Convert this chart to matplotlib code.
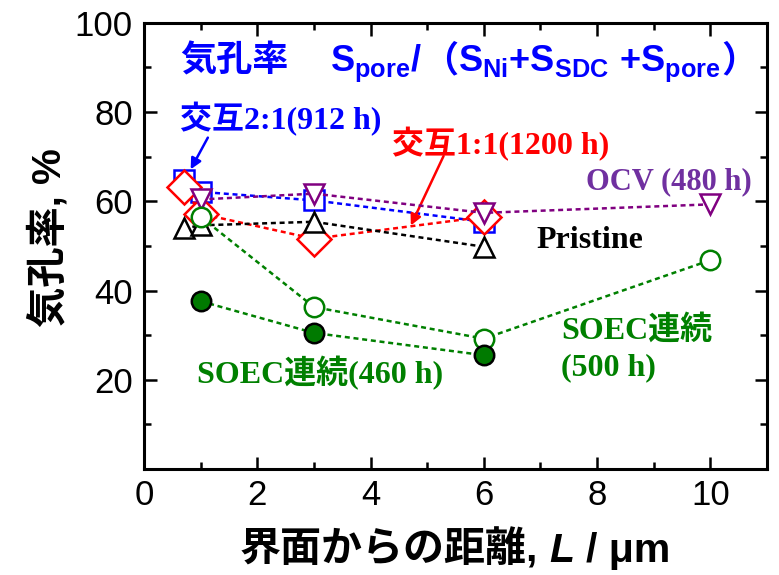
import matplotlib
matplotlib.use('Agg')
import matplotlib.pyplot as plt
from matplotlib.offsetbox import TextArea, HPacker, AnnotationBbox

# porosity vs. distance from the electrolyte interface
x_pristine = [0.7, 1, 3, 6]
pristine = [53.9, 54.6, 55.4, 49.8]

x_alt21 = [0.7, 1, 3, 6]
alt21 = [64.7, 62.1, 60.2, 55.4]

x_alt11 = [0.7, 1, 3, 6]
alt11 = [63.2, 57.2, 51.6, 56.5]

x_ocv = [1, 3, 6, 10]
ocv = [60.4, 61.7, 57.4, 59.3]

x_soec500 = [1, 3, 6, 10]
soec500 = [56.5, 36.3, 29.2, 46.8]

x_soec460 = [1, 3, 6]
soec460 = [37.6, 30.5, 25.5]

xticks = [0, 2, 4, 6, 8, 10]
yticks = [20, 40, 60, 80, 100]

plt.rcParams['mathtext.fontset'] = 'custom'
plt.rcParams['mathtext.rm'] = 'Liberation Sans:bold'
plt.rcParams['mathtext.bf'] = 'Liberation Sans:bold'
plt.rcParams['mathtext.it'] = 'Liberation Sans:bold:italic'

SANS = ['Liberation Sans', 'Noto Sans CJK JP']
SERIF = ['Liberation Serif', 'Noto Sans CJK JP']

BLUE = '#0000ff'
RED = '#ff0000'
PURPLE = '#800080'
GREEN = '#008000'

fig = plt.figure(figsize=(7.79, 5.75), dpi=100)
ax = fig.add_axes([0.1849, 0.1843, 0.7997, 0.7762])

ms = 14
mew = 1.8
lw = 1.8
dash = (2.0, 1.5)

ax.plot(x_alt21, alt21, color=BLUE, ls='--', dashes=dash, lw=lw, marker='s',
        ms=ms, mfc='white', mec=BLUE, mew=mew, zorder=3)
ax.plot(x_alt11, alt11, color=RED, ls='--', dashes=dash, lw=lw, marker='D',
        ms=17, mfc='white', mec=RED, mew=mew, zorder=4)
ax.plot(x_pristine, pristine, color='black', ls='--', dashes=dash, lw=lw, marker='^',
        ms=ms, mfc='white', mec='black', mew=mew, zorder=5)
ax.plot(x_ocv, ocv, color=PURPLE, ls='--', dashes=dash, lw=lw, marker='v',
        ms=ms, mfc='white', mec=PURPLE, mew=mew, zorder=6)
ax.plot(x_soec500, soec500, color=GREEN, ls='--', dashes=dash, lw=lw, marker='o',
        ms=ms, mfc='white', mec=GREEN, mew=mew, zorder=7)
ax.plot(x_soec460, soec460, color=GREEN, ls='--', dashes=dash, lw=lw, marker='o',
        ms=ms, mfc='#007a00', mec='black', mew=mew, zorder=8)

ax.set_xlim(0, 11)
ax.set_ylim(0, 100)
ax.set_xticks(xticks)
ax.set_xticks([1, 3, 5, 7, 9], minor=True)
ax.set_yticks(yticks)
ax.set_yticks([10, 30, 50, 70, 90], minor=True)

for s in ax.spines.values():
    s.set_linewidth(2.2)
ax.tick_params(which='both', direction='in', top=True, right=True, width=1.8)
ax.tick_params(which='major', length=9)
ax.tick_params(which='minor', length=5)
ax.tick_params(axis='x', which='major', pad=7)
ax.tick_params(axis='y', which='major', pad=8)
for lab in ax.get_xticklabels() + ax.get_yticklabels():
    lab.set_family(SANS)
    lab.set_fontsize(25)

# annotations
lab_kw = dict(family=SERIF, fontweight='bold', fontsize=23, va='center', ha='left')
ax.text(0.635, 78.4, '交互2:1(912 h)', color=BLUE, **lab_kw)
ax.text(4.37, 72.8, '交互1:1(1200 h)', color=RED, **lab_kw)
ax.text(7.81, 64.3, 'OCV (480 h)', color='#7030a0', **dict(lab_kw, fontsize=22))
ax.text(6.93, 51.2, 'Pristine', color='black', **lab_kw)
ax.text(7.37, 31.1, 'SOEC連続', color=GREEN, **lab_kw)
ax.text(7.37, 22.8, '(500 h)', color=GREEN, **lab_kw)
ax.text(0.93, 21.6, 'SOEC連続(460 h)', color=GREEN, **lab_kw)

ax.annotate('', xy=(0.80, 66.6), xytext=(1.15, 74.8),
            arrowprops=dict(arrowstyle='-|>', color=BLUE, lw=1.8, mutation_scale=16))
ax.annotate('', xy=(4.69, 54.0), xytext=(5.31, 70.7),
            arrowprops=dict(arrowstyle='-|>', color=RED, lw=1.8, mutation_scale=16))

# heading: porosity definition
hd = dict(color=BLUE, fontsize=26, fontweight='bold', family=SANS)
formula = HPacker(children=[
    TextArea(r'$\mathbf{S_{pore}/}$', textprops=hd),
    TextArea('（', textprops=hd),
    TextArea(r'$\mathbf{S_{Ni}{+}S_{SDC}\ {+}S_{pore}}$', textprops=hd),
    TextArea('）', textprops=hd),
], align='baseline', pad=0, sep=0)
heading = HPacker(children=[TextArea('気孔率', textprops=hd), formula],
                  align='baseline', pad=0, sep=30)
ax.add_artist(AnnotationBbox(heading, (0.635, 90.8), xycoords='data',
                             box_alignment=(0, 0.5), frameon=False, pad=0))

# axis titles
ax_kw = dict(fontsize=29.5, fontweight='bold', family=SANS, color='black')
xlab = HPacker(children=[
    TextArea('界面からの距離,', textprops=ax_kw),
    TextArea('L', textprops=dict(ax_kw, style='italic')),
    TextArea('/ μm', textprops=ax_kw),
], align='baseline', pad=0, sep=8)
fig.add_artist(AnnotationBbox(xlab, (455 / 779, 1 - 549 / 575), xycoords='figure fraction',
                              box_alignment=(0.5, 0.5), frameon=False, pad=0))
fig.text(48 / 779, 1 - 238 / 575, '気孔率, %', rotation=90, ha='center', va='center',
         **dict(ax_kw, fontsize=29))

fig.savefig('out.png', dpi=100)
